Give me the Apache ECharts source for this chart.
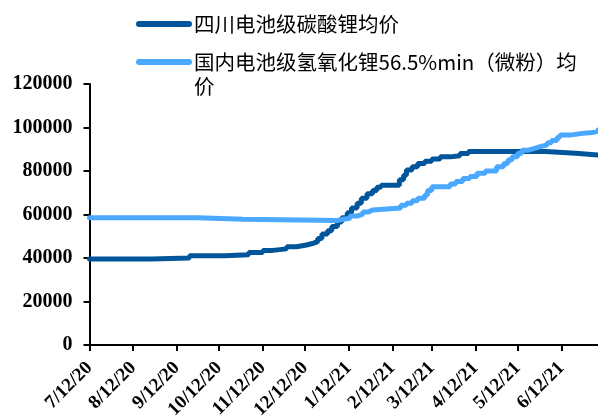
<!DOCTYPE html>
<html>
<head>
<meta charset="utf-8">
<script src="https://cdn.jsdelivr.net/npm/echarts@6/dist/echarts.min.js"></script>
<style>
html,body{margin:0;padding:0;background:#fff;}
#chart{width:598px;height:419px;}
</style>
</head>
<body>
<div id="chart"></div>
<script>
// ---- data ----
const seriesNames = ['四川电池级碳酸锂均价', '国内电池级氢氧化锂56.5%min（微粉）均价'];

const carbonateDates = ['2020-07-12','2020-08-25','2020-09-21','2020-10-16','2020-11-02','2020-11-12','2020-11-19','2020-11-29','2020-12-06','2020-12-13','2020-12-18','2020-12-21','2020-12-24','2020-12-28','2020-12-31','2021-01-04','2021-01-07','2021-01-11','2021-01-14','2021-01-18','2021-01-21','2021-01-25','2021-01-29','2021-02-01','2021-02-04','2021-02-17','2021-02-20','2021-02-22','2021-02-26','2021-03-02','2021-03-07','2021-03-12','2021-03-18','2021-03-25','2021-04-01','2021-04-07','2021-06-01','2021-06-22','2021-07-08'];
const carbonateValues = [39500,40000,41000,41500,42500,43500,44200,45200,46000,46800,47500,49000,51000,52500,54500,56500,58500,60800,63000,65200,67500,69500,71000,72500,73500,76000,78000,80500,82000,83500,84500,85500,86500,87000,88000,89000,88200,87300,87300];

const hydroxideDates = ['2020-07-12','2020-09-27','2020-10-29','2021-01-04','2021-01-08','2021-01-13','2021-01-18','2021-01-22','2021-01-26','2021-01-29','2021-02-18','2021-02-22','2021-02-26','2021-03-02','2021-03-07','2021-03-09','2021-03-12','2021-03-25','2021-03-29','2021-04-03','2021-04-08','2021-04-13','2021-04-19','2021-04-27','2021-05-02','2021-05-05','2021-05-08','2021-05-12','2021-05-15','2021-05-19','2021-05-24','2021-05-28','2021-06-02','2021-06-05','2021-06-09','2021-06-11','2021-06-18','2021-06-27','2021-07-04','2021-07-08'];
const hydroxideValues = [58500,57800,57200,57800,58300,59300,60200,61200,62100,63000,64200,65200,66300,67500,69000,71000,72800,74000,75200,76500,77500,79000,80000,82000,83500,85100,86500,88200,89500,90400,91200,92000,93000,94000,95500,96500,97300,97700,98300,98800];

const xTickLabels = ['7/12/20','8/12/20','9/12/20','10/12/20','11/12/20','12/12/20','1/12/21','2/12/21','3/12/21','4/12/21','5/12/21','6/12/21'];
const xMin = '2020-07-12';
const xMax = '2021-07-08';

// ---- helpers ----
function parseISO(s){ const p = s.split('-').map(Number); return new Date(p[0], p[1]-1, p[2]).getTime(); }
function parseMDY(s){ const p = s.split('/').map(Number); return new Date(2000+p[2], p[0]-1, p[1]).getTime(); }
function fmt(ts){ const d = new Date(ts); return (d.getMonth()+1)+'/'+d.getDate()+'/'+String(d.getFullYear()%100).padStart(2,'0'); }
function pairs(dates, vals){ return dates.map((d,i)=>[parseISO(d), vals[i]]); }

const tickVals = xTickLabels.map(parseMDY);
const darkColor = '#00559b';
const lightColor = '#4aa8ff';
const serif = '"Liberation Serif", "Times New Roman", serif';

const chart = echarts.init(document.getElementById('chart'), null, {renderer:'canvas'});
const legendText = {fontFamily:'"Noto Sans CJK SC", sans-serif', fontSize:20.5, color:'#000', lineHeight:24};
chart.setOption({
  animation:false,
  backgroundColor:'#fff',
  legend:[
    {data:[seriesNames[0]], left:136, top:12, padding:0, itemWidth:50, itemHeight:14, selectedMode:false,
     textStyle:legendText, itemStyle:{opacity:0}, lineStyle:{width:6, cap:'round', opacity:1}},
    {data:[seriesNames[1]], left:136, top:26, padding:0, itemWidth:50, itemHeight:14, selectedMode:false,
     textStyle:legendText, itemStyle:{opacity:0}, lineStyle:{width:6, cap:'round', opacity:1},
     formatter: n => '\n国内电池级氢氧化锂56.5%min（微粉）均\n价'}
  ],
  grid:{left:89.5, right:0, top:84, bottom:74, containLabel:false, outerBoundsMode:'none'},
  xAxis:{
    type:'value', min:parseISO(xMin), max:parseISO(xMax), scale:true,
    axisLine:{show:true, lineStyle:{color:'#000', width:2}},
    axisTick:{show:true, customValues:tickVals, length:6, lineStyle:{color:'#000', width:2}},
    axisLabel:{customValues:tickVals, rotate:45, margin:20, formatter:v=>fmt(v),
      fontFamily:serif, fontWeight:'bold', fontSize:19, color:'#000'},
    splitLine:{show:false}, minorTick:{show:false}
  },
  yAxis:{
    type:'value', min:0, max:120000, interval:20000,
    axisLine:{show:true, lineStyle:{color:'#000', width:2}},
    axisTick:{show:true, length:6, lineStyle:{color:'#000', width:2}},
    axisLabel:{margin:17, formatter:v=>String(v), fontFamily:serif, fontWeight:'bold', fontSize:20, color:'#000'},
    splitLine:{show:false}
  },
  series:[
    {name:seriesNames[0], type:'line', step:'end', symbol:'none', data:pairs(carbonateDates, carbonateValues),
     lineStyle:{color:darkColor, width:5, cap:'round'}, itemStyle:{color:darkColor}},
    {name:seriesNames[1], type:'line', step:'end', symbol:'none', data:pairs(hydroxideDates, hydroxideValues),
     lineStyle:{color:lightColor, width:5, cap:'round'}, itemStyle:{color:lightColor}}
  ]
});
</script>
</body>
</html>
